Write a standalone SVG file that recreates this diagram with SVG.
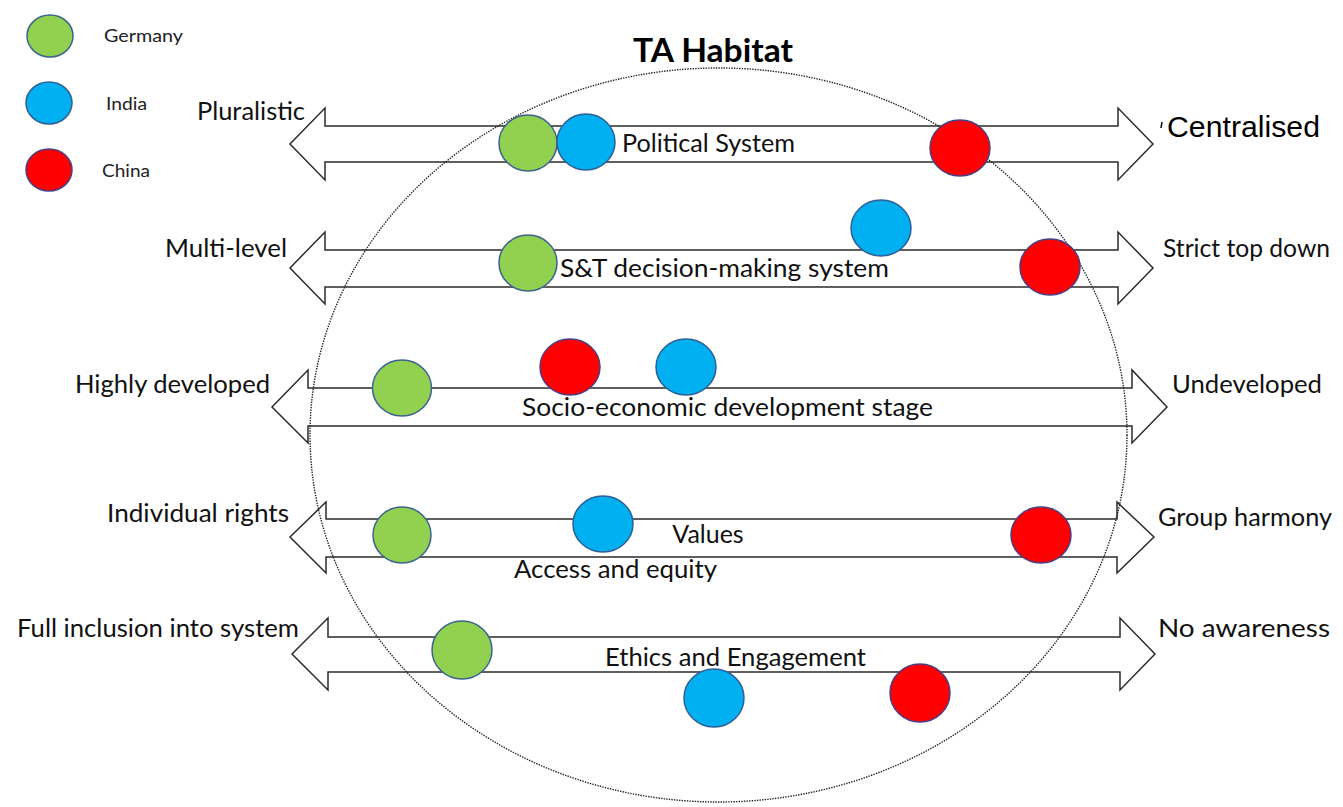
<svg xmlns="http://www.w3.org/2000/svg" width="1343" height="807" viewBox="0 0 1343 807">
<style>
.arrow{fill:#ffffff;stroke:#2b2b2b;stroke-width:1.5;stroke-linejoin:miter}
.habitat{fill:none;stroke:#222;stroke-width:1.4;stroke-dasharray:1.4 1.2}
.de{fill:#92D050;stroke:#3B6390;stroke-width:1.5}
.in{fill:#00B0F0;stroke:#2F5F96;stroke-width:1.5}
.cn{fill:#FF0000;stroke:#4A3E86;stroke-width:1.5}
.lbl{font-family:Lato,"Open Sans","DejaVu Sans",sans-serif;font-size:25px;fill:#111}
.leg{font-family:Lato,"Open Sans","DejaVu Sans",sans-serif;font-size:18px;fill:#222}
.title{font-family:Lato,"Open Sans","DejaVu Sans",sans-serif;font-size:33px;font-weight:bold;fill:#000}
.helv{font-family:"Liberation Sans",Arial,sans-serif;font-size:30px;fill:#000}
</style>
<rect width="1343" height="807" fill="#ffffff"/>

<g id="legend">
  <g id="legend-germany"><ellipse class="de" cx="50" cy="36" rx="23" ry="21"/><text class="leg" x="104" y="42" textLength="79" lengthAdjust="spacingAndGlyphs">Germany</text></g>
  <g id="legend-india"><ellipse class="in" cx="49" cy="103" rx="23" ry="21"/><text class="leg" x="106" y="110" textLength="41" lengthAdjust="spacingAndGlyphs">India</text></g>
  <g id="legend-china"><ellipse class="cn" cx="49" cy="170" rx="23" ry="21"/><text class="leg" x="102" y="177" textLength="48" lengthAdjust="spacingAndGlyphs">China</text></g>
</g>

<g id="connectors">
  <path id="arrow-political" class="arrow" d="M290,144 L325,108 L325,126 L1118,126 L1118,108 L1153,144 L1118,180 L1118,162 L325,162 L325,180 Z"/>
  <path id="arrow-st" class="arrow" d="M290,268 L325,232 L325,250 L1118,250 L1118,232 L1153,268 L1118,304 L1118,287 L325,287 L325,304 Z"/>
  <path id="arrow-socio" class="arrow" d="M272,407 L308,370 L308,388 L1132,388 L1132,370 L1167,407 L1132,443 L1132,426 L308,426 L308,443 Z"/>
  <path id="arrow-values" class="arrow" d="M290,537 L326,502 L326,519 L1117,519 L1117,502 L1154,537 L1117,573 L1117,557 L326,557 L326,573 Z"/>
  <path id="arrow-ethics" class="arrow" d="M292,654 L328,618 L328,637 L1120,637 L1120,618 L1155,654 L1120,690 L1120,672 L328,672 L328,690 Z"/>
</g>

<g id="habitat">
  <ellipse class="habitat" cx="718.5" cy="435" rx="408.5" ry="367"/>
  <text class="title" x="633" y="62" textLength="160" lengthAdjust="spacingAndGlyphs">TA Habitat</text>
</g>

<g id="row-political">
  <text class="lbl" x="197" y="120" textLength="108" lengthAdjust="spacingAndGlyphs">Pluralistic</text>
  <text class="lbl" x="622" y="152" textLength="173" lengthAdjust="spacingAndGlyphs">Political System</text>
  <path d="M1162,122 L1161,128" stroke="#000" stroke-width="1.5" fill="none"/>
  <text class="helv" x="1167" y="137" textLength="153" lengthAdjust="spacingAndGlyphs">Centralised</text>
  <ellipse class="de" cx="528" cy="143" rx="29" ry="28"/>
  <ellipse class="in" cx="586" cy="142" rx="29" ry="28"/>
  <ellipse class="cn" cx="960" cy="148" rx="30" ry="28"/>
</g>

<g id="row-st">
  <text class="lbl" x="165" y="257" textLength="122" lengthAdjust="spacingAndGlyphs">Multi-level</text>
  <text class="lbl" x="560" y="277" textLength="329" lengthAdjust="spacingAndGlyphs">S&amp;T decision-making system</text>
  <text class="lbl" x="1163" y="257" textLength="167" lengthAdjust="spacingAndGlyphs">Strict top down</text>
  <ellipse class="de" cx="528" cy="263" rx="29" ry="28"/>
  <ellipse class="in" cx="881" cy="228" rx="30" ry="28"/>
  <ellipse class="cn" cx="1050" cy="267" rx="30" ry="28"/>
</g>

<g id="row-socio">
  <text class="lbl" x="75" y="393" textLength="195" lengthAdjust="spacingAndGlyphs">Highly developed</text>
  <text class="lbl" x="522" y="416" textLength="411" lengthAdjust="spacingAndGlyphs">Socio-economic development stage</text>
  <text class="lbl" x="1172" y="393" textLength="150" lengthAdjust="spacingAndGlyphs">Undeveloped</text>
  <ellipse class="de" cx="402" cy="388" rx="29.5" ry="28"/>
  <ellipse class="cn" cx="570" cy="367" rx="30" ry="28"/>
  <ellipse class="in" cx="686" cy="367" rx="30" ry="28"/>
</g>

<g id="row-values">
  <text class="lbl" x="107" y="522" textLength="182" lengthAdjust="spacingAndGlyphs">Individual rights</text>
  <text class="lbl" x="708" y="543" text-anchor="middle">Values</text>
  <text class="lbl" x="514" y="578" textLength="203" lengthAdjust="spacingAndGlyphs">Access and equity</text>
  <text class="lbl" x="1158" y="526" textLength="174" lengthAdjust="spacingAndGlyphs">Group harmony</text>
  <ellipse class="de" cx="402" cy="535" rx="29" ry="28"/>
  <ellipse class="in" cx="603" cy="524" rx="30" ry="28"/>
  <ellipse class="cn" cx="1041" cy="535" rx="30" ry="28"/>
</g>

<g id="row-ethics">
  <text class="lbl" x="17" y="637" textLength="282" lengthAdjust="spacingAndGlyphs">Full inclusion into system</text>
  <text class="lbl" x="605" y="666" textLength="261" lengthAdjust="spacingAndGlyphs">Ethics and Engagement</text>
  <text class="lbl" x="1158" y="637" textLength="172" lengthAdjust="spacingAndGlyphs">No awareness</text>
  <ellipse class="de" cx="462" cy="650" rx="30" ry="29"/>
  <ellipse class="in" cx="714" cy="698" rx="30" ry="29"/>
  <ellipse class="cn" cx="920" cy="693" rx="30" ry="29"/>
</g>
</svg>
